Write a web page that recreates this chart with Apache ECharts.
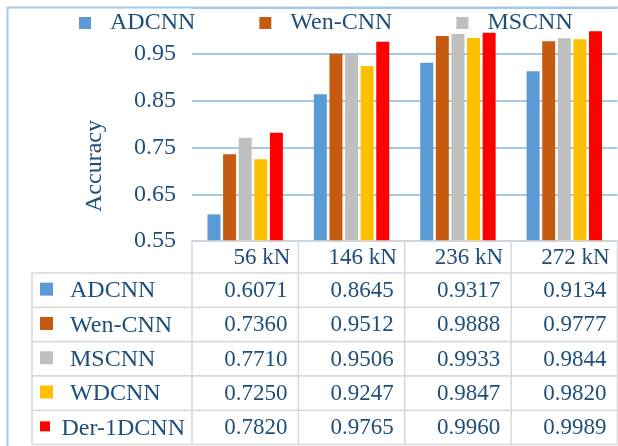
<!DOCTYPE html>
<html>
<head>
<meta charset="utf-8">
<style>
  html, body { margin: 0; padding: 0; background: #fff; }
  #chart { width: 618px; height: 446px; }
</style>
<script src="https://cdn.jsdelivr.net/npm/echarts@6/dist/echarts.min.js"></script>
</head>
<body>
<div id="chart"></div>
<script>
// Load levels on the category axis
const categories = ['56 kN', '146 kN', '236 kN', '272 kN'];

// Model names and accuracy per load level
const seriesNames = ['ADCNN', 'Wen-CNN', 'MSCNN', 'WDCNN', 'Der-1DCNN'];
const adcnn    = [0.6071, 0.8645, 0.9317, 0.9134];
const wenCnn   = [0.7360, 0.9512, 0.9888, 0.9777];
const mscnn    = [0.7710, 0.9506, 0.9933, 0.9844];
const wdcnn    = [0.7250, 0.9247, 0.9847, 0.9820];
const der1dcnn = [0.7820, 0.9765, 0.9960, 0.9989];

// Y-axis ticks
const yTicks = [0.55, 0.65, 0.75, 0.85, 0.95, 1.05];

const colors = ['#5B9BD5', '#C55A11', '#BFBFBF', '#FFC000', '#FF0000'];
const seriesValues = [adcnn, wenCnn, mscnn, wdcnn, der1dcnn];

const TEXT = '#1F4E79';
const FONT = 'Liberation Serif';
const TABLE_LINE = '#D9D9D9';
const GRID_LINE = '#A6C9E8';

const chart = echarts.init(document.getElementById('chart'), null, { renderer: 'canvas' });

const option = {
  animation: false,
  backgroundColor: '#fff',
  color: colors,
  legend: {
    data: seriesNames.slice(0, 3),
    left: 74,
    top: 6,
    itemWidth: 12,
    itemHeight: 12,
    itemGap: 64,
    icon: 'rect',
    textStyle: { color: TEXT, fontFamily: FONT, fontSize: 24, padding: [0, 0, 0, 14] }
  },
  grid: { left: 192, right: 0.5, top: 7.5, bottom: 205 },
  xAxis: {
    type: 'category',
    data: categories,
    axisLine: { show: false },
    axisTick: { show: false },
    axisLabel: { show: false }
  },
  yAxis: {
    type: 'value',
    min: yTicks[0],
    max: yTicks[yTicks.length - 1],
    interval: 0.1,
    axisLine: { show: false },
    axisTick: { show: false },
    axisLabel: {
      margin: 16,
      color: TEXT,
      fontFamily: FONT,
      fontSize: 24,
      formatter: v => (v > 1 ? '' : v.toFixed(2))
    },
    splitLine: { lineStyle: { color: GRID_LINE, width: 2 } }
  },
  series: seriesNames.map((name, i) => ({
    name,
    type: 'bar',
    data: seriesValues[i],
    barWidth: 13,
    barGap: '20%',
    itemStyle: { color: colors[i] }
  }))
};

chart.setOption(option);

// Data table under the plot, laid out from the category axis positions
function buildTable() {
  const g = [];
  const centers = categories.map(c => chart.convertToPixel({ xAxisIndex: 0 }, c));
  const band = centers.length > 1 ? centers[1] - centers[0] : 100;
  const xAxisY = chart.convertToPixel({ yAxisIndex: 0 }, yTicks[0]);
  const tableLeft = 32;
  const plotLeft = centers[0] - band / 2;
  const plotRight = centers[centers.length - 1] + band / 2;
  const headerH = 32;
  const rowH = 34.3;
  const rowsTop = xAxisY + headerH;
  const tableBottom = rowsTop + rowH * seriesNames.length;
  const line = (x1, y1, x2, y2) => ({
    type: 'line', z: 20, silent: true,
    shape: { x1, y1, x2, y2 },
    style: { stroke: TABLE_LINE, lineWidth: 1.6 }
  });

  // outer frame of the chart area
  g.push({
    type: 'polyline', z: 30, silent: true,
    shape: { points: [[7.5, 446], [7.5, 7.5], [618, 7.5]] },
    style: { stroke: GRID_LINE, lineWidth: 2, fill: null }
  });

  // axis title
  g.push({
    type: 'text', z: 30, silent: true,
    x: 95, y: 166, rotation: Math.PI / 2,
    style: {
      text: 'Accuracy', fill: TEXT, font: '24px "' + FONT + '"',
      align: 'center', verticalAlign: 'middle'
    }
  });

  // horizontal rules
  g.push(line(plotLeft, xAxisY, plotRight, xAxisY));
  for (let r = 0; r <= seriesNames.length; r++) {
    const y = rowsTop + r * rowH;
    g.push(line(tableLeft, y, plotRight, y));
  }
  // vertical rules
  g.push(line(tableLeft, rowsTop, tableLeft, tableBottom));
  for (let c = 0; c <= categories.length; c++) {
    const x = plotLeft + c * band;
    g.push(line(x, xAxisY, x, tableBottom));
  }

  // header labels
  categories.forEach((cat, c) => {
    g.push({
      type: 'text', z: 25, silent: true,
      x: centers[c] + band / 2 - 8, y: xAxisY + headerH / 2 + 1,
      style: {
        text: cat, fill: TEXT, font: '23px "' + FONT + '"',
        align: 'right', verticalAlign: 'middle'
      }
    });
  });

  const nameFont = '24px "' + FONT + '"';
  const measure = document.createElement('canvas').getContext('2d');
  measure.font = nameFont;

  // series rows: key, name and values
  seriesNames.forEach((name, r) => {
    const cy = rowsTop + r * rowH + rowH / 2;
    const k = r === seriesNames.length - 1 ? 10 : 13;
    g.push({
      type: 'rect', z: 25, silent: true,
      shape: { x: 40, y: cy - k / 2 - 1, width: k, height: k },
      style: { fill: colors[r] }
    });
    const w = measure.measureText(name).width;
    const tx = Math.min(70, plotLeft - 7 - w);
    g.push({
      type: 'text', z: 25, silent: true,
      x: tx, y: cy + 1,
      style: {
        text: name, fill: TEXT, font: nameFont,
        align: 'left', verticalAlign: 'middle'
      }
    });
    seriesValues[r].forEach((v, c) => {
      g.push({
        type: 'text', z: 25, silent: true,
        x: centers[c] + band / 2 - 11, y: cy + 1,
        style: {
          text: v.toFixed(4), fill: TEXT, font: '23px "' + FONT + '"',
          align: 'right', verticalAlign: 'middle'
        }
      });
    });
  });

  chart.setOption({ graphic: { elements: g } });
}

buildTable();
</script>
</body>
</html>
